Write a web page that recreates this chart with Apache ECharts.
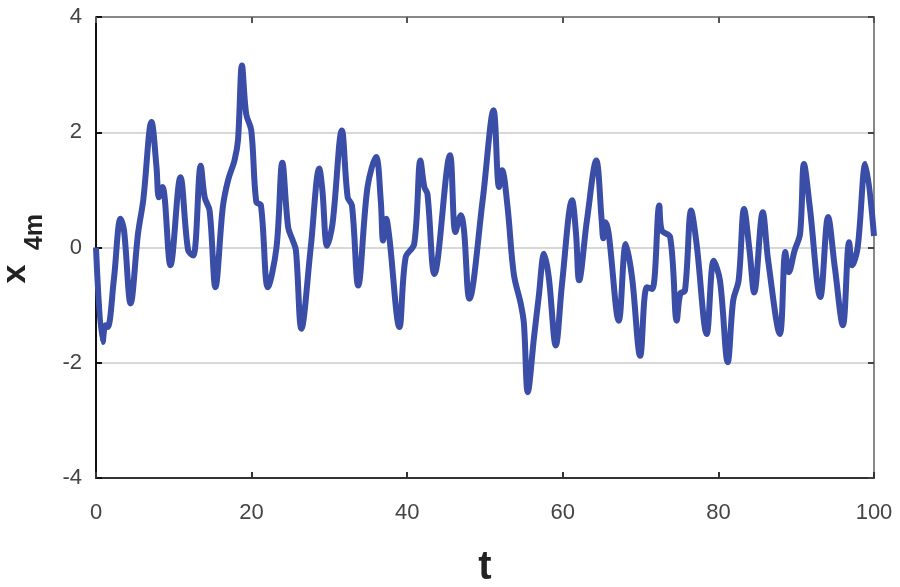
<!DOCTYPE html>
<html>
<head>
<meta charset="utf-8">
<script src="https://cdn.jsdelivr.net/npm/echarts@6/dist/echarts.min.js"></script>
<style>
    html, body { margin: 0; padding: 0; background: #fff; }
    #chart { width: 900px; height: 587px; }
</style>
</head>
<body>
<div id="chart"></div>
<script>
var tValues = [
    0.0, 0.86, 1.2, 1.5, 2.3, 3.16, 3.6, 4.45, 5.4, 6.07,
    7.14, 7.78, 8.08, 8.55, 9.57, 10.85, 11.84, 12.5, 13.46, 13.97,
    14.6, 15.35, 16.3, 16.96, 17.8, 18.25, 18.76, 19.3, 19.96, 20.6,
    21.2, 22.1, 23.2, 23.95, 24.7, 25.3, 25.7, 26.4, 27.6, 28.7,
    29.1, 29.7, 30.4, 31.6, 32.35, 32.9, 33.7, 34.9, 36.0, 36.6,
    36.9, 37.3, 37.7, 39.0, 39.8, 40.9, 41.7, 42.2, 42.6, 43.5,
    45.5, 46.2, 46.9, 47.3, 48.0, 49.7, 51.1, 51.8, 52.2, 52.9,
    53.7, 54.6, 55.0, 55.5, 56.3, 56.9, 57.6, 58.2, 59.1, 59.9,
    61.2, 61.7, 62.1, 63.1, 64.3, 65.0, 65.2, 65.5, 65.9, 67.2,
    68.1, 68.9, 69.95, 70.8, 71.5, 72.4, 72.7, 73.8, 74.65, 75.1,
    75.7, 76.5, 77.2, 78.5, 79.4, 80.2, 81.2, 81.9, 82.6, 83.3,
    84.0, 84.6, 85.7, 86.4, 87.9, 88.6, 89.05, 89.8, 90.5, 91.0,
    91.75, 93.1, 94.1, 94.96, 96.0, 96.8, 97.2, 97.9, 98.9, 100
];
var x4mValues = [
    0.0, -1.64, -1.35, -1.38, -0.55, 0.50, 0.30, -0.97, 0.24, 0.82,
    2.18, 1.39, 0.87, 1.05, -0.31, 1.22, -0.05, -0.14, 1.42, 0.87,
    0.64, -0.69, 0.70, 1.16, 1.51, 1.86, 3.16, 2.32, 2.03, 0.79,
    0.73, -0.69, 0.0, 1.47, 0.35, 0.12, -0.05, -1.41, 0.0, 1.37,
    0.99, 0.03, 0.41, 2.03, 0.87, 0.73, -0.66, 1.05, 1.57, 0.82,
    0.12, 0.5, 0.18, -1.38, -0.17, 0.06, 1.51, 1.05, 0.93, -0.46,
    1.6, 0.27, 0.56, 0.3, -0.89, 0.82, 2.38, 1.05, 1.34, 0.7,
    -0.46, -0.98, -1.32, -2.51, -1.56, -0.86, -0.11, -0.52, -1.70, -0.63,
    0.82, 0.24, -0.57, 0.47, 1.51, 0.47, 0.16, 0.44, 0.24, -1.27,
    0.06, -0.52, -1.88, -0.69, -0.72, 0.73, 0.30, 0.18, -1.27, -0.8,
    -0.75, 0.64, 0.06, -1.5, -0.23, -0.57, -1.99, -0.92, -0.57, 0.67,
    -0.05, -0.78, 0.61, -0.23, -1.5, -0.08, -0.43, -0.05, 0.24, 1.45,
    0.7, -0.86, 0.53, -0.34, -1.35, 0.09, -0.31, 0.0, 1.45, 0.2
];
var xTicks = [0, 20, 40, 60, 80, 100];
var yTicks = [-4, -2, 0, 2, 4];

var labelFont = "'Liberation Sans', Arial, sans-serif";
var lineData = tValues.map(function (t, i) { return [t, x4mValues[i]]; });

var chart = echarts.init(document.getElementById('chart'));
chart.setOption({
    animation: false,
    grid: { left: 96, right: 26, top: 17, bottom: 109, outerBoundsMode: 'none', containLabel: false },
    // rotated y title "x" with subscript "4m"
    graphic: [{
        type: 'text',
        x: 16,
        y: 274,
        rotation: Math.PI / 2,
        style: { text: 'x', fill: '#222', font: 'bold 34px ' + labelFont, align: 'center', verticalAlign: 'middle' }
    }, {
        type: 'text',
        x: 35,
        y: 232,
        rotation: Math.PI / 2,
        style: { text: '4m', fill: '#222', font: 'bold 25px ' + labelFont, align: 'center', verticalAlign: 'middle' }
    }],
    xAxis: [{
        type: 'value',
        min: xTicks[0],
        max: xTicks[xTicks.length - 1],
        interval: 20,
        position: 'bottom',
        name: 't',
        nameLocation: 'middle',
        nameGap: 70,
        nameTextStyle: { fontSize: 40, fontWeight: 'bold', color: '#222', fontFamily: labelFont },
        axisLine: { onZero: false, lineStyle: { color: '#333', width: 2 } },
        axisTick: { inside: true, length: 6, lineStyle: { color: '#333', width: 2 } },
        axisLabel: { fontSize: 22, color: '#444', margin: 24, fontFamily: labelFont },
        splitLine: { show: false }
    }, {
        type: 'value',
        min: xTicks[0],
        max: xTicks[xTicks.length - 1],
        interval: 20,
        position: 'top',
        axisLine: { onZero: false, lineStyle: { color: '#888', width: 2 } },
        axisTick: { inside: true, length: 6, lineStyle: { color: '#555', width: 2 } },
        axisLabel: { show: false },
        splitLine: { show: false }
    }],
    yAxis: [{
        type: 'value',
        min: yTicks[0],
        max: yTicks[yTicks.length - 1],
        interval: 2,
        position: 'left',
        axisLine: { onZero: false, lineStyle: { color: '#111', width: 2 } },
        axisTick: { inside: true, length: 6, lineStyle: { color: '#111', width: 2 } },
        axisLabel: { fontSize: 22, color: '#444', margin: 14, fontFamily: labelFont },
        splitLine: { show: true, lineStyle: { color: '#d8d8d8', width: 2 } }
    }, {
        type: 'value',
        min: yTicks[0],
        max: yTicks[yTicks.length - 1],
        interval: 2,
        position: 'right',
        axisLine: { onZero: false, lineStyle: { color: '#888', width: 2 } },
        axisTick: { inside: true, length: 6, lineStyle: { color: '#444', width: 2 } },
        axisLabel: { show: false },
        splitLine: { show: false }
    }],
    series: [{
        type: 'line',
        data: lineData,
        showSymbol: false,
        smooth: 0.35,
        lineStyle: { color: '#3a4ea7', width: 6 }
    }]
});
</script>
</body>
</html>
